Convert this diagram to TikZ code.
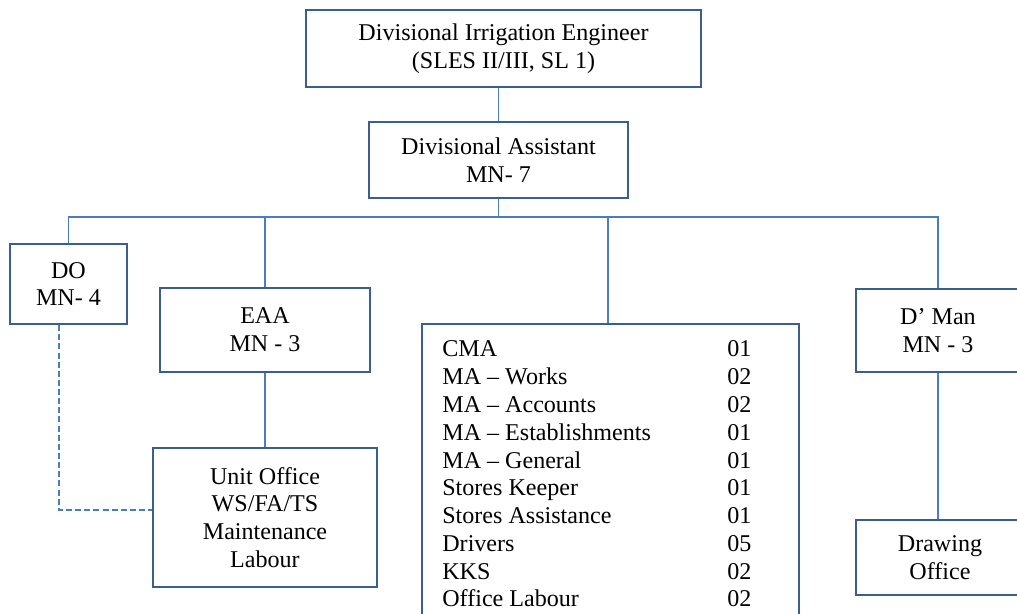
\documentclass[tikz,border=0pt]{standalone}
\usepackage{fontspec}
\setmainfont{Liberation Serif}
\usepackage{tikz}
\usetikzlibrary{positioning}
\usetikzlibrary{calc}
\tikzset{>=latex}
\definecolor{boxline}{HTML}{3A5F8E}
\definecolor{linkline}{HTML}{4A7EBB}

\begin{document}
\begin{tikzpicture}[x=0.02cm, y=-0.02cm,
    post/.style = {draw=boxline, line width=1.3pt, fill=white, align=center,
                   inner sep=0pt, font=\fontsize{13.7}{15.8}\selectfont},
    link/.style = {draw=linkline, line width=1.1pt}]
      \useasboundingbox (0,0) rectangle (1017,614);
      \clip (0,0) rectangle (1017,614);

      \node[post, minimum width=7.9cm, minimum height=1.54cm] (die) at (503.5,48.5)
            {Divisional Irrigation Engineer\\(SLES II/III, SL 1)};
      \node[post, minimum width=5.18cm, minimum height=1.52cm] (da) at (498.5,160)
            {Divisional Assistant\\MN- 7};
      \node[post, minimum width=2.34cm, minimum height=1.6cm] (do) at (68.5,284)
            {DO\\MN- 4};
      \node[post, minimum width=4.2cm, minimum height=1.68cm] (eaa) at (265,330)
            {EAA\\MN - 3};
      \node[post, minimum width=4.48cm, minimum height=2.78cm] (unit) at (265,517.5)
            {Unit Office\\WS/FA/TS\\Maintenance\\Labour};
      \node[post, minimum width=7.54cm, minimum height=6.4cm] (staff) at (610.5,484) {};
      \node[anchor=base west, inner sep=0pt, font=\fontsize{13.7}{15.8}\selectfont]
            (stafflist) at (442,357) {%
        \begin{tabular}[t]{@{}p{5.7cm}@{}l@{}}
          CMA & 01\\
          MA -- Works & 02\\
          MA -- Accounts & 02\\
          MA -- Establishments & 01\\
          MA -- General & 01\\
          Stores Keeper & 01\\
          Stores Assistance & 01\\
          Drivers & 05\\
          KKS & 02\\
          Office Labour & 02
        \end{tabular}};
      \node[post, minimum width=3.28cm, minimum height=1.66cm] (dman) at (938,330.5)
            {D’ Man\\MN - 3};
      \node[post, minimum width=3.36cm, minimum height=1.5cm] (dwg) at (940,557.5)
            {Drawing\\Office};

      \coordinate (bus) at (498.5,217);

      \draw[link] (die.south -| da.north) -- (da.north);
      \draw[link] (da.south) -- (bus);
      \draw[link] (do.north) |- (bus) -| (dman.north);
      \draw[link] (bus -| eaa.north) -- (eaa.north);
      \draw[link] (bus -| 608,0) -- (608,217 |- staff.north);

      \draw[link] (eaa.south) -- (unit.north);
      \draw[link] (dman.south) -- (dman.south |- dwg.north);
      \draw[link, dash pattern=on 3.4pt off 1.8pt]
            ([xshift=-0.19cm]do.south) |- ([yshift=0.15cm]unit.west);

    \end{tikzpicture}
\end{document}
